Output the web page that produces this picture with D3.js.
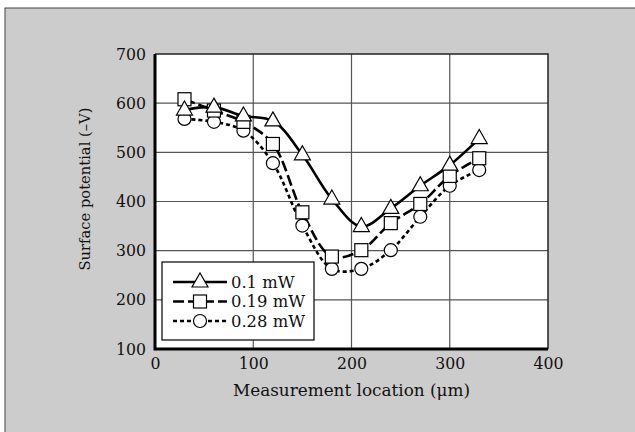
<!DOCTYPE html>
<html><head><meta charset="utf-8">
<script src="https://cdn.jsdelivr.net/npm/d3@7"></script>
<style>body{margin:0;background:#fff}svg{display:block}text{font-family:"DejaVu Serif",serif;fill:#111}</style>
</head><body>
<script>
const xValues = [30, 60, 90, 120, 150, 180, 210, 240, 270, 300, 330];
const s01 = [586, 592, 574, 564, 495, 405, 349, 386, 432, 474, 528];
const s019 = [608, 585, 562, 517, 378, 288, 301, 356, 395, 452, 488];
const s028 = [568, 562, 544, 478, 351, 263, 263, 301, 369, 432, 464];
const seriesNames = ["0.1 mW", "0.19 mW", "0.28 mW"];
const xTicks = [0, 100, 200, 300, 400];
const yTicks = [100, 200, 300, 400, 500, 600, 700];
const xTitle = "Measurement location (\u03bcm)";
const yTitle = "Surface potential (\u2013V)";

const W = 635, H = 432;
const svg = d3.select("body").append("svg").attr("width", W).attr("height", H);
svg.append("rect").attr("x", 5).attr("y", 8).attr("width", W).attr("height", H).attr("fill", "#cccccc").attr("stroke", "#444").attr("stroke-width", 1);

const x = d3.scaleLinear().domain([0, 400]).range([155, 548]);
const y = d3.scaleLinear().domain([100, 700]).range([349, 54]);

// fit a text element's font size to a target width
function fit(sel, target) {
  const w = sel.node().getComputedTextLength();
  const fs = parseFloat(sel.attr("font-size"));
  if (w > 0) sel.attr("font-size", (fs * target / w).toFixed(2));
}

svg.append("rect").attr("x", x(0)).attr("y", y(700)).attr("width", x(400) - x(0)).attr("height", y(100) - y(700)).attr("fill", "#fff");

// grid
const g = svg.append("g");
g.selectAll(".vg").data(xTicks.slice(1, -1)).join("line")
  .attr("x1", d => x(d)).attr("x2", d => x(d)).attr("y1", y(700)).attr("y2", y(100))
  .attr("stroke", "#555").attr("stroke-width", 1.2);
g.selectAll(".hg").data(yTicks.slice(1, -1)).join("line")
  .attr("x1", x(0)).attr("x2", x(400)).attr("y1", d => y(d)).attr("y2", d => y(d))
  .attr("stroke", "#555").attr("stroke-width", 1.2);
svg.append("path").attr("d", `M${x(0)},${y(700)}H${x(400)}V${y(100)}`).attr("fill", "none").attr("stroke", "#222").attr("stroke-width", 1.5);

// axes
const xAxis = svg.append("g").attr("transform", `translate(0,${y(100)})`)
  .call(d3.axisBottom(x).tickValues(xTicks).tickSize(0).tickPadding(9).tickFormat(d3.format("d")));
xAxis.select(".domain").remove();
xAxis.selectAll("text").attr("font-size", 16).attr("font-family", "DejaVu Serif").attr("fill", "#111");
const yAxis = svg.append("g").attr("transform", `translate(${x(0)},0)`)
  .call(d3.axisLeft(y).tickValues(yTicks).tickSize(0).tickPadding(9).tickFormat(d3.format("d")));
yAxis.select(".domain").remove();
yAxis.selectAll("text").attr("font-size", 16).attr("font-family", "DejaVu Serif").attr("fill", "#111");
// size digits so "100" is ~30px wide
const probe = xAxis.selectAll("text").filter(d => d === 100);
const pw = probe.node().getComputedTextLength();
const tickFs = (16 * 30 / pw).toFixed(2);
xAxis.selectAll("text").attr("font-size", tickFs);
yAxis.selectAll("text").attr("font-size", tickFs);
svg.append("path").attr("d", `M${x(0)},${y(700)}V${y(100)}H${x(400)}`).attr("fill", "none").attr("stroke", "#000").attr("stroke-width", 3);

const xt = svg.append("text").attr("x", 351.5).attr("y", 396).attr("text-anchor", "middle").attr("font-size", 15).text(xTitle);
fit(xt, 237);
const yt = svg.append("text").attr("transform", "translate(90,189) rotate(-90)").attr("text-anchor", "middle").attr("font-size", 15).text(yTitle);
fit(yt, 163);

const series = [
  {name: seriesNames[0], vals: s01, dash: null, marker: "tri"},
  {name: seriesNames[1], vals: s019, dash: "11,4", marker: "sq"},
  {name: seriesNames[2], vals: s028, dash: "4,3", marker: "circ"}
];
const line = d3.line().x(d => x(d[0])).y(d => y(d[1])).curve(d3.curveCatmullRom.alpha(0.5));

function drawMarker(sel, type, cx, cy) {
  if (type === "tri") {
    sel.append("path").attr("d", `M${cx},${cy - 9}L${cx + 8},${cy + 5}L${cx - 8},${cy + 5}Z`)
      .attr("fill", "#fff").attr("stroke", "#000").attr("stroke-width", 1.2);
  } else if (type === "sq") {
    sel.append("rect").attr("x", cx - 6.5).attr("y", cy - 6.5).attr("width", 13).attr("height", 13)
      .attr("fill", "#fff").attr("stroke", "#000").attr("stroke-width", 1.2);
  } else {
    sel.append("circle").attr("cx", cx).attr("cy", cy).attr("r", 6.5)
      .attr("fill", "#fff").attr("stroke", "#000").attr("stroke-width", 1.2);
  }
}

series.slice().reverse().forEach(s => {
  const pts = xValues.map((v, i) => [v, s.vals[i]]);
  svg.append("path").attr("d", line(pts)).attr("fill", "none").attr("stroke", "#000")
    .attr("stroke-width", 2.6).attr("stroke-dasharray", s.dash);
});
series.slice().reverse().forEach(s => {
  const mg = svg.append("g");
  xValues.forEach((v, i) => drawMarker(mg, s.marker, x(v), y(s.vals[i])));
});

// legend
const lg = svg.append("g");
lg.append("rect").attr("x", 162).attr("y", 262).attr("width", 152).attr("height", 78)
  .attr("fill", "#fff").attr("stroke", "#000").attr("stroke-width", 1.2);
const legTexts = [];
series.forEach((s, i) => {
  const ly = 282 + i * 19.5;
  lg.append("line").attr("x1", 173).attr("x2", 227).attr("y1", ly).attr("y2", ly)
    .attr("stroke", "#000").attr("stroke-width", 2.6).attr("stroke-dasharray", s.dash);
  drawMarker(lg, s.marker, 200, ly);
  legTexts.push(lg.append("text").attr("x", 231).attr("y", ly + 5.5).attr("font-size", 15).text(s.name));
});
const lw = legTexts[1].node().getComputedTextLength();
const legFs = (15 * 74 / lw).toFixed(2);
legTexts.forEach(t => t.attr("font-size", legFs));
</script>
</body></html>
